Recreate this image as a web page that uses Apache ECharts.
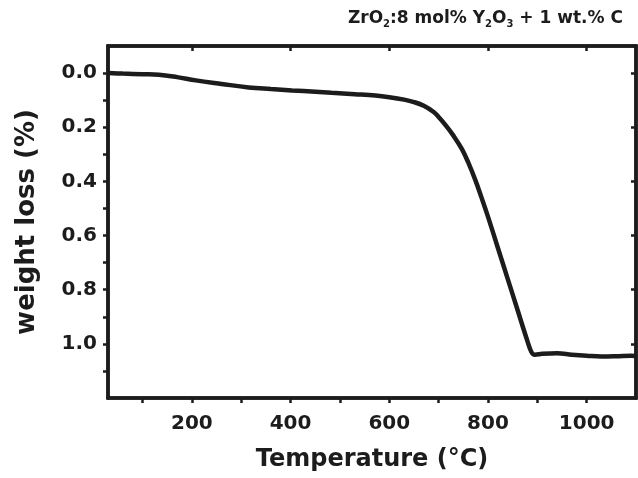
<!DOCTYPE html>
<html>
<head>
<meta charset="utf-8">
<script src="https://cdn.jsdelivr.net/npm/echarts@6/dist/echarts.min.js"></script>
<style>
  html, body { margin: 0; padding: 0; background: #fff; }
  #chart { width: 638px; height: 478px; }
</style>
</head>
<body>
<div id="chart"></div>
<script>
// TGA curve: temperature (°C) vs weight loss (%)
const temperature = [30, 60, 100, 133, 170, 208, 260, 315, 360, 403, 450, 483, 530, 572, 600, 630, 650, 670, 690, 700, 714, 730, 747, 760, 775, 787, 800, 820, 840, 860, 880, 888, 895, 910, 940, 970, 1000, 1030, 1060, 1090, 1100];
const weightLoss  = [0.000, 0.002, 0.004, 0.006, 0.015, 0.027, 0.040, 0.053, 0.059, 0.064, 0.069, 0.073, 0.078, 0.083, 0.089, 0.098, 0.107, 0.121, 0.144, 0.162, 0.192, 0.231, 0.280, 0.330, 0.398, 0.460, 0.530, 0.645, 0.760, 0.875, 0.990, 1.030, 1.040, 1.037, 1.035, 1.040, 1.044, 1.047, 1.046, 1.044, 1.045];

const xLabelValues = [200, 400, 600, 800, 1000];
const xTickValues  = [100, 200, 300, 400, 500, 600, 700, 800, 900, 1000];
const yLabelValues = [0.0, 0.2, 0.4, 0.6, 0.8, 1.0];
const yTickValues  = [0.0, 0.1, 0.2, 0.3, 0.4, 0.5, 0.6, 0.7, 0.8, 0.9, 1.0, 1.1];

const ink = '#1c1c1c';
const font = 'DejaVu Sans, Liberation Sans, sans-serif';

const chart = echarts.init(document.getElementById('chart'), null, { renderer: 'canvas' });

const axisLineStyle = { show: true, onZero: false, lineStyle: { color: ink, width: 3.5 } };
const tickStyle = { color: ink, width: 2.5 };

chart.setOption({
  backgroundColor: '#fff',
  animation: false,
  title: {
    right: 10,
    top: 4,
    text: 'ZrO{sub|2}:8 mol% Y{sub|2}O{sub|3} + 1 wt.% C',
    textStyle: {
      fontFamily: font,
      fontWeight: 'bold',
      fontSize: 17,
      color: ink,
      rich: {
        sub: { fontFamily: font, fontWeight: 'bold', fontSize: 10, color: ink, verticalAlign: 'bottom', padding: [10, 0, 0, 0] }
      }
    }
  },
  grid: {
    left: 108, right: 2, top: 46, bottom: 80,
    show: true, borderColor: ink, borderWidth: 3.5, backgroundColor: '#fff'
  },
  xAxis: [
    {
      type: 'value', position: 'bottom', min: 30, max: 1100,
      name: 'Temperature (°C)', nameLocation: 'middle', nameGap: 50,
      nameTextStyle: { fontFamily: font, fontWeight: 'bold', fontSize: 24, color: ink },
      axisLine: axisLineStyle,
      axisTick: { show: true, inside: false, length: 5, lineStyle: tickStyle, customValues: xTickValues },
      axisLabel: {
        show: true, margin: 16, fontFamily: font, fontWeight: 'bold', fontSize: 20, color: ink,
        customValues: xLabelValues,
        formatter: v => String(v)
      },
      splitLine: { show: false }
    },
    {
      type: 'value', position: 'top', min: 30, max: 1100,
      axisLine: axisLineStyle,
      axisTick: { show: true, inside: true, length: 5, lineStyle: tickStyle, customValues: xLabelValues },
      axisLabel: { show: false },
      splitLine: { show: false }
    }
  ],
  yAxis: [
    {
      type: 'value', position: 'left', inverse: true, min: -0.1, max: 1.2,
      name: 'weight loss (%)', nameLocation: 'middle', nameGap: 68, nameRotate: 90,
      nameTextStyle: { fontFamily: font, fontWeight: 'bold', fontSize: 26, color: ink },
      axisLine: axisLineStyle,
      axisTick: { show: true, inside: false, length: 5, lineStyle: tickStyle, customValues: yTickValues },
      axisLabel: {
        show: true, margin: 11, fontFamily: font, fontWeight: 'bold', fontSize: 20, color: ink,
        customValues: yLabelValues,
        formatter: v => Number(v).toFixed(1)
      },
      splitLine: { show: false }
    },
    {
      type: 'value', position: 'right', inverse: true, min: -0.1, max: 1.2,
      axisLine: axisLineStyle,
      axisTick: { show: true, inside: true, length: 5, lineStyle: tickStyle, customValues: yLabelValues },
      axisLabel: { show: false },
      splitLine: { show: false }
    }
  ],
  series: [
    {
      type: 'line',
      xAxisIndex: 0, yAxisIndex: 0,
      data: temperature.map((t, i) => [t, weightLoss[i]]),
      smooth: 0.4,
      showSymbol: false,
      lineStyle: { color: ink, width: 4.5 },
      clip: true
    }
  ]
});
</script>
</body>
</html>
